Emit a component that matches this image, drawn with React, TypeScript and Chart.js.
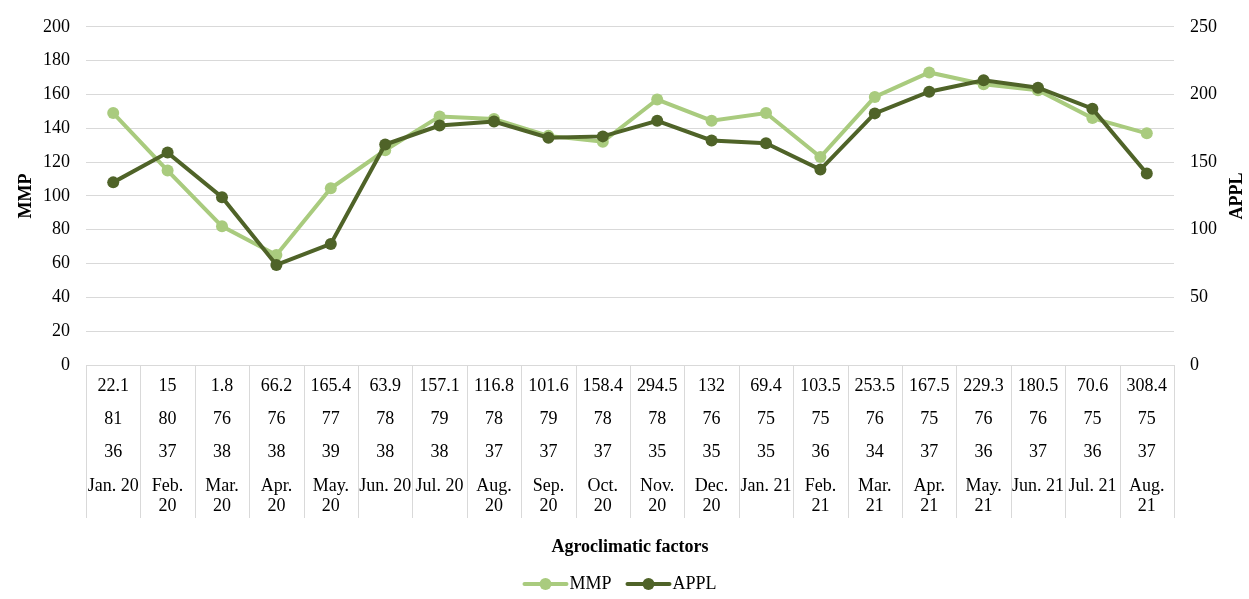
import { useEffect, useRef } from 'react';
import { Chart, registerables } from 'chart.js';

Chart.register(...registerables);

// Month labels, already split where they wrap inside a table cell
const months: string[][] = [
  ['Jan. 20'], ['Feb.', '20'], ['Mar.', '20'], ['Apr.', '20'], ['May.', '20'],
  ['Jun. 20'], ['Jul. 20'], ['Aug.', '20'], ['Sep.', '20'], ['Oct.', '20'],
  ['Nov.', '20'], ['Dec.', '20'], ['Jan. 21'], ['Feb.', '21'], ['Mar.', '21'],
  ['Apr.', '21'], ['May.', '21'], ['Jun. 21'], ['Jul. 21'], ['Aug.', '21'],
];

// Agroclimatic factor rows shown under the axis
const rainfall = ['22.1', '15', '1.8', '66.2', '165.4', '63.9', '157.1', '116.8', '101.6', '158.4',
  '294.5', '132', '69.4', '103.5', '253.5', '167.5', '229.3', '180.5', '70.6', '308.4'];
const humidity = ['81', '80', '76', '76', '77', '78', '79', '78', '79', '78',
  '78', '76', '75', '75', '76', '75', '76', '76', '75', '75'];
const temperature = ['36', '37', '38', '38', '39', '38', '38', '37', '37', '37',
  '35', '35', '35', '36', '34', '37', '36', '37', '36', '37'];

// Series
const mmp = [149, 115, 82, 65, 104.5, 127, 147, 145.5, 135.5, 132,
  157, 144.5, 149, 123, 158.5, 173, 166, 162.5, 146, 137];
const appl = [135, 157, 124, 74, 89.5, 163, 177, 180, 168, 169,
  180.5, 166, 164, 144.5, 186, 202, 210.5, 205, 189.5, 141.5];

const leftTicks = { min: 0, max: 200, step: 20 };
const rightTicks = { min: 0, max: 250, step: 50 };

const LIGHT = '#A9CB7E';
const DARK = '#4F6328';
const GRID = '#d9d9d9';
const FONT = '"Liberation Serif", "Times New Roman", serif';

const tableRows = [rainfall, humidity, temperature];

const tablePlugin = {
  id: 'agroTable',
  afterDraw(chart: any) {
    const { ctx, chartArea } = chart;
    const xs = chart.scales.x;
    const n = months.length;
    const w = chartArea.width / n;
    const top = chartArea.bottom;
    ctx.save();
    // cell borders
    ctx.strokeStyle = GRID;
    ctx.lineWidth = 1;
    for (let i = 0; i <= n; i++) {
      const px = Math.round(chartArea.left + i * w) + 0.5;
      ctx.beginPath();
      ctx.moveTo(px, top);
      ctx.lineTo(px, top + 153);
      ctx.stroke();
    }
    // cell text
    ctx.fillStyle = '#000';
    ctx.font = `18px ${FONT}`;
    ctx.textAlign = 'center';
    ctx.textBaseline = 'middle';
    const rowY = [21, 54, 87];
    for (let i = 0; i < n; i++) {
      const cx = xs.getPixelForValue(i);
      tableRows.forEach((row, r) => ctx.fillText(row[i], cx, top + rowY[r]));
      months[i].forEach((line, k) => ctx.fillText(line, cx, top + 121 + k * 20));
    }

    // right axis title, reading bottom to top
    const ry = chart.scales.y1;
    ctx.font = `bold 18px ${FONT}`;
    ctx.translate(ry.right - 12, (chartArea.top + chartArea.bottom) / 2);
    ctx.rotate(-Math.PI / 2);
    ctx.fillText('APPL', 0, 0);
    ctx.restore();

    // legend: line + marker samples
    ctx.save();
    ctx.font = `18px ${FONT}`;
    ctx.textBaseline = 'middle';
    ctx.textAlign = 'left';
    const items = [
      { label: 'MMP', color: LIGHT },
      { label: 'APPL', color: DARK },
    ];
    const lineLen = 42;
    const gapText = 3;
    const gapItem = 16;
    const widths = items.map((it) => lineLen + gapText + ctx.measureText(it.label).width);
    const total = widths.reduce((a, b) => a + b, 0) + gapItem * (items.length - 1);
    let x = chart.width / 2 - 4 - total / 2;
    const y = 584;
    items.forEach((it, idx) => {
      ctx.strokeStyle = it.color;
      ctx.lineWidth = 4;
      ctx.lineCap = 'round';
      ctx.beginPath();
      ctx.moveTo(x, y);
      ctx.lineTo(x + lineLen, y);
      ctx.stroke();
      ctx.fillStyle = it.color;
      ctx.beginPath();
      ctx.arc(x + lineLen / 2, y, 6, 0, Math.PI * 2);
      ctx.fill();
      ctx.fillStyle = '#000';
      ctx.fillText(it.label, x + lineLen + gapText, y);
      x += widths[idx] + gapItem;
    });
    ctx.restore();
  },
};

export default function App() {
  const ref = useRef<HTMLCanvasElement>(null);

  useEffect(() => {
    if (!ref.current) return;
    const tickFont = { family: FONT, size: 18 };
    const titleFont = { family: FONT, size: 18, weight: 'bold' as const };
    const chart = new Chart(ref.current, {
      type: 'line',
      data: {
        labels: months.map((m) => m.join(' ')),
        datasets: [
          {
            label: 'MMP',
            data: mmp,
            yAxisID: 'y',
            borderColor: LIGHT,
            backgroundColor: LIGHT,
            pointBackgroundColor: LIGHT,
            pointBorderColor: LIGHT,
            borderWidth: 4,
            pointRadius: 6,
            pointBorderWidth: 0,
            tension: 0,
            order: 1,
          },
          {
            label: 'APPL',
            data: appl,
            yAxisID: 'y1',
            borderColor: DARK,
            backgroundColor: DARK,
            pointBackgroundColor: DARK,
            pointBorderColor: DARK,
            borderWidth: 4,
            pointRadius: 6,
            pointBorderWidth: 0,
            tension: 0,
            order: 0,
          },
        ],
      },
      options: {
        responsive: false,
        animation: false,
        layout: { padding: { top: 21.5, left: 0, right: 0, bottom: 0 } },
        plugins: {
          legend: { display: false },
          tooltip: { enabled: false },
        },
        scales: {
          x: {
            offset: true,
            grid: { display: false },
            border: { display: true, color: GRID, width: 1 },
            ticks: { display: false },
            title: {
              display: true,
              text: 'Agroclimatic factors',
              color: '#000',
              font: titleFont,
              padding: { top: 0, bottom: 41 },
            },
            afterFit: (s: any) => {
              s.height = 234;
            },
          },
          y: {
            position: 'left',
            min: leftTicks.min,
            max: leftTicks.max,
            ticks: { stepSize: leftTicks.step, color: '#000', font: tickFont, padding: 16 },
            grid: { color: GRID, lineWidth: 1, drawTicks: false },
            border: { display: false },
            title: {
              display: true,
              text: 'MMP',
              color: '#000',
              font: titleFont,
              padding: { top: 16, bottom: 0 },
            },
            afterFit: (s: any) => {
              s.width = 86;
            },
          },
          y1: {
            position: 'right',
            min: rightTicks.min,
            max: rightTicks.max,
            ticks: { stepSize: rightTicks.step, color: '#000', font: tickFont, padding: 16 },
            grid: { drawOnChartArea: false, drawTicks: false },
            border: { display: false },
            afterFit: (s: any) => {
              s.width = 75;
            },
          },
        },
      },
      plugins: [tablePlugin],
    });
    return () => chart.destroy();
  }, []);

  return (
    <div style={{ position: 'fixed', left: 0, top: 0, width: 1249, height: 599, background: '#fff' }}>
      <canvas ref={ref} width={1249} height={599} />
    </div>
  );
}
